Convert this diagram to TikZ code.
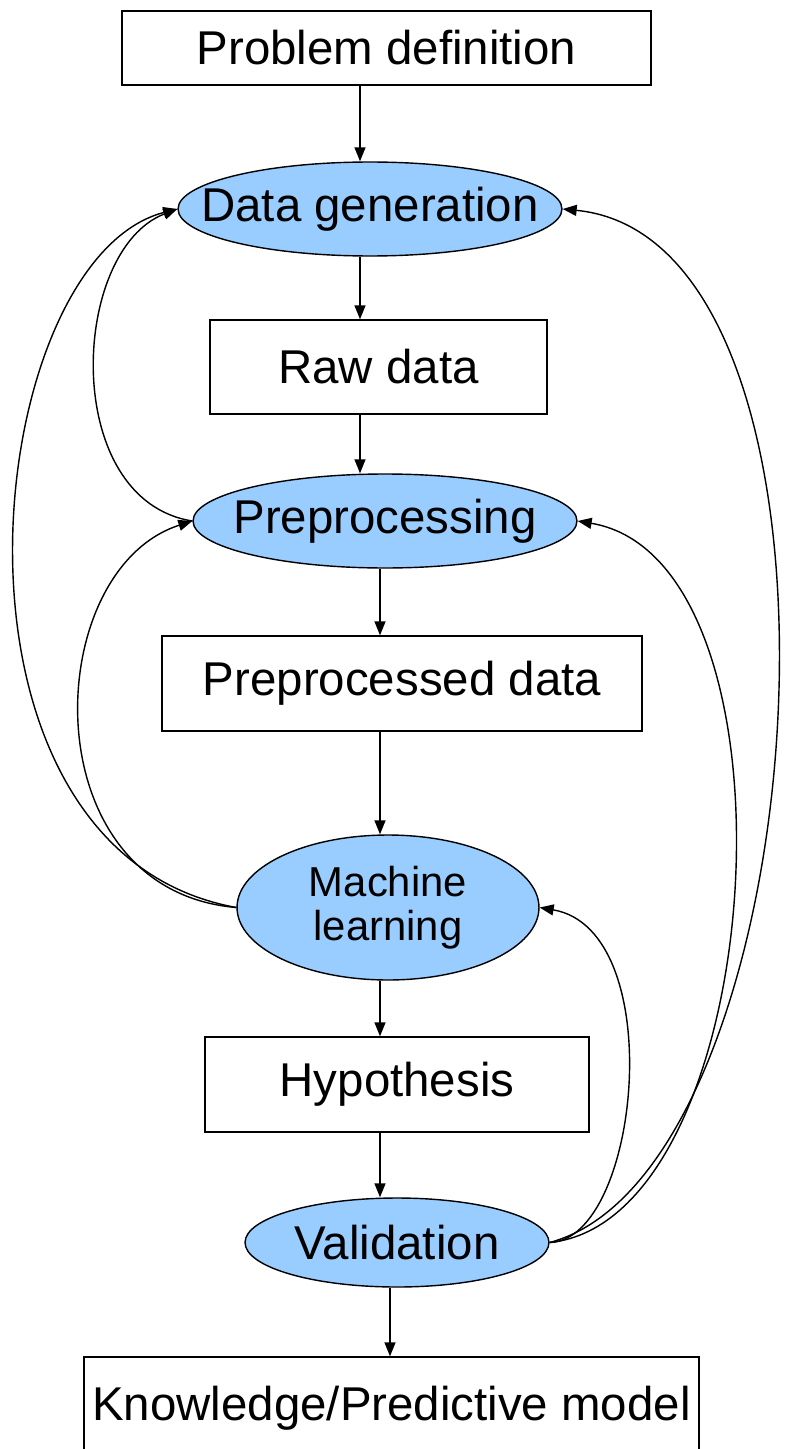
\documentclass[tikz,border=0pt]{standalone}
\usepackage{fontspec}
\setmainfont{Liberation Sans}
\usepackage{tikz}
\usetikzlibrary{shapes.geometric, arrows.meta}
\definecolor{stageblue}{RGB}{153,204,255}

\begin{document}
\begin{tikzpicture}[x=0.02cm, y=-0.02cm,
    box/.style={draw, line width=0.8pt, inner sep=0pt, font=\fontsize{27}{30}\selectfont},
    stage/.style={draw, ellipse, fill=stageblue, line width=0.8pt, inner sep=0pt, font=\fontsize{27}{30}\selectfont},
    flow/.style={-{Triangle[length=0.28cm, width=0.22cm]}, line width=0.8pt}]
  \useasboundingbox (0,0) rectangle (788,1449);
  % stages, top to bottom
  \node[box, minimum width=10.58cm, minimum height=1.48cm] (pd) at (386.5,48) {Problem definition};
  \node[stage, minimum width=7.68cm, minimum height=1.88cm] (dg) at (370,209) {\makebox[0pt]{Data generation}};
  \node[box, minimum width=6.74cm, minimum height=1.88cm] (rd) at (378.5,367) {Raw data};
  \node[stage, minimum width=7.68cm, minimum height=1.88cm] (pp) at (385,521) {\makebox[0pt]{Preprocessing}};
  \node[box, minimum width=9.6cm, minimum height=1.9cm] (ppd) at (402,683.5) {Preprocessed data};
  \node[stage, minimum width=6.04cm, minimum height=2.9cm, align=center,
        font=\fontsize{23.8}{25}\selectfont] (ml) at (388,907.5) {Machine\\learning};
  \node[box, minimum width=7.68cm, minimum height=1.9cm] (hyp) at (397,1084.5) {Hypothesis};
  \node[stage, minimum width=6.08cm, minimum height=1.78cm] (val) at (397,1242.5) {\makebox[0pt]{Validation}};
  \node[box, minimum width=12.3cm, minimum height=2.04cm] (km) at (391.5,1408) {Knowledge/Predictive model};
  % main flow
  \draw[flow] (pd.south -| 360,0) -- (dg.north -| 360,0);
  \draw[flow] (dg.south -| 360,0) -- (rd.north -| 360,0);
  \draw[flow] (rd.south -| 360,0) -- (pp.north -| 360,0);
  \draw[flow] (pp.south -| 380,0) -- (ppd.north -| 380,0);
  \draw[flow] (ppd.south -| 380,0) -- (ml.north -| 380,0);
  \draw[flow] (ml.south -| 380,0) -- (hyp.north -| 380,0);
  \draw[flow] (hyp.south -| 380,0) -- (val.north -| 380,0);
  \draw[flow] (val.south -| 390,0) -- (km.north -| 390,0);
  % feedback on the left
  \draw[flow] (ml.west) .. controls (-80,850) and (-20,260) .. (dg.west);
  \draw[flow] (ml.west) .. controls (30,890) and (40,570) .. (pp.west);
  \draw[flow] (pp.west) .. controls (60,500) and (70,250) .. (dg.west);
  % feedback on the right
  \draw[flow] (val.east) .. controls (820,1170) and (880,240) .. (dg.east);
  \draw[flow] (val.east) .. controls (770,1220) and (810,560) .. (pp.east);
  \draw[flow] (val.east) .. controls (640,1240) and (670,930) .. (ml.east);
\end{tikzpicture}
\end{document}
